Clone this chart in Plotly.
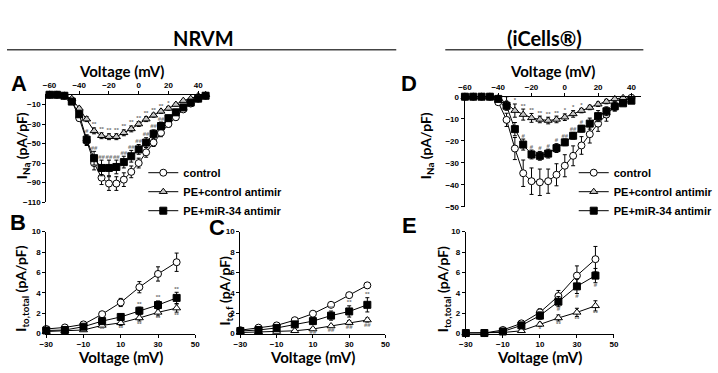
import plotly.graph_objects as go

W, H = 718, 373
def dx(p): return p / W
def dy(p): return 1 - p / H

# ---------------- data ----------------
volts_A = [-60, -55, -50, -45, -40, -35, -30, -25, -20, -15, -10, -5, 0, 5, 10, 15, 20, 25, 30, 35, 40, 45]
ctrl_A = [0, 0, -1, -6, -24, -47, -70, -85, -91, -91, -87, -79, -70, -59, -49, -39, -30, -23, -15, -9, -4, -1]
ctrl_A_err = [0, 0, 0.5, 1.5, 3, 5, 7, 7, 7, 7, 7, 6, 5, 5, 4, 4, 3, 3, 2, 2, 1, 1]
tri_A = [0, 0, -1, -4, -14, -25, -37, -42, -43, -43, -39, -35, -30, -25, -21, -17, -14, -10, -6, -4, -1, 0]
tri_A_err = [0, 0, 0.3, 0.5, 1.5, 2.5, 3, 3, 3, 3, 3, 3, 2.5, 2.5, 2, 2, 2, 1.5, 1, 1, 0.5, 0.5]
sq_A = [0, 0, -1, -7, -20, -46, -65, -75, -75, -74, -69, -63, -56, -49, -40, -32, -24, -18, -13, -8, -4, -1]
sq_A_err = [0, 0, 0.5, 1.5, 3, 5, 7, 8, 8, 7, 6, 6, 5, 5, 4, 4, 3, 3, 2, 2, 1, 1]
sig_tri_A = ["", "", "", "", "", "", "**", "**", "**", "**", "**", "**", "**", "**", "**", "**", "*", "", "", "", "", ""]
sig_sq_A = ["", "", "", "", "", "#", "##", "##", "##", "##", "##", "##", "##", "##", "##", "##", "", "", "", "", "", ""]

volts_D = [-60, -55, -50, -45, -40, -35, -30, -25, -20, -15, -10, -5, 0, 5, 10, 15, 20, 25, 30, 35, 40]
ctrl_D = [0, 0, 0, 0, -2.5, -10.5, -23.5, -34.7, -38.3, -38.8, -38.3, -35.4, -31.3, -26.8, -22.1, -17, -12.2, -8.1, -4.5, -2, -0.5]
ctrl_D_err = [0, 0, 0, 0, 1, 3, 5, 6, 6, 6, 5.5, 5, 5, 4.5, 4, 4, 3.5, 3, 2, 1, 1]
tri_D = [0, 0, 0, 0, -0.5, -3, -6.3, -8.1, -9.6, -10.3, -10.8, -10.3, -9.3, -7.8, -6.3, -4.9, -3.4, -2.2, -1, -0.5, 0.5]
tri_D_err = [0, 0, 0, 0, 0.5, 3, 3, 2.5, 2, 1.5, 1.5, 1.5, 1.5, 1.5, 1, 1, 1, 1, 1, 1, 0.5]
sq_D = [0, 0, 0, 0, -1, -4.1, -14.7, -21.7, -26.2, -26.8, -25.8, -23.3, -20.7, -17.7, -14.5, -12.2, -8.8, -6.6, -4.4, -3, -1.8]
sq_D_err = [0, 0, 0, 0, 0.5, 2, 3, 2.5, 2, 2, 2, 2, 1.5, 1.5, 1.5, 2.5, 2.5, 2, 2, 1, 0.5]
sig_tri_D = ["", "", "", "", "", "", "*", "**", "**", "**", "**", "**", "*", "*", "*", "", "", "", "", "", ""]
sig_sq_D = ["", "", "", "", "", "", "", "#", "#", "#", "#", "#", "##", "##", "#", "", "", "", "", "", ""]

volts_to = [-30, -20, -10, 0, 10, 20, 30, 40]
ctrl_B = [0.45, 0.6, 0.9, 1.9, 3.05, 4.55, 5.85, 7.0]
ctrl_B_err = [0.05, 0.05, 0.1, 0.15, 0.4, 0.55, 0.7, 0.9]
sq_B = [0.3, 0.35, 0.67, 1.22, 1.63, 2.24, 2.8, 3.5]
sq_B_err = [0.05, 0.05, 0.1, 0.2, 0.3, 0.35, 0.4, 0.55]
tri_B = [0.2, 0.25, 0.35, 0.8, 1.05, 1.53, 2.08, 2.5]
tri_B_err = [0.05, 0.05, 0.1, 0.15, 0.25, 0.3, 0.35, 0.4]
sig_sq_B = ["", "", "", "", "", "**", "**", "**"]
sig_tri_B = ["", "", "", "**", "**", "**", "**", "**"]

ctrl_C = [0.33, 0.58, 0.8, 1.31, 1.95, 2.82, 3.77, 4.73]
ctrl_C_err = [0.05, 0.05, 0.05, 0.1, 0.15, 0.15, 0.2, 0.25]
sq_C = [0.25, 0.35, 0.55, 0.9, 1.22, 1.76, 2.17, 2.82]
sq_C_err = [0.05, 0.05, 0.1, 0.15, 0.3, 0.45, 0.55, 0.7]
tri_C = [0.1, 0.15, 0.2, 0.27, 0.45, 0.74, 1.07, 1.33]
tri_C_err = [0.02, 0.02, 0.05, 0.05, 0.1, 0.15, 0.2, 0.2]
sig_sq_C = ["", "", "", "", "", "**", "**", "**"]
sig_tri_C = ["", "", "", "", "##", "##", "##", "##"]

ctrl_E = [0.05, 0.05, 0.35, 1.0, 2.08, 3.68, 5.69, 7.3]
ctrl_E_err = [0.02, 0.02, 0.1, 0.2, 0.35, 0.55, 0.95, 1.25]
sq_E = [0.05, 0.05, 0.2, 0.8, 1.76, 3.13, 4.63, 5.69]
sq_E_err = [0.02, 0.02, 0.1, 0.25, 0.35, 0.5, 0.7, 0.7]
tri_E = [0.05, 0.05, 0.1, 0.27, 0.9, 1.53, 2.08, 2.72]
tri_E_err = [0.02, 0.02, 0.05, 0.1, 0.2, 0.3, 0.4, 0.5]
sig_sq_E = ["", "", "", "", "", "#", "#", "#"]
sig_tri_E = ["", "", "", "", "*", "**", "**", "**"]

series_names = ["control", "PE+control antimir", "PE+miR-34 antimir"]

# ---------------- figure ----------------
fig = go.Figure()
ARIAL = "Liberation Sans, Arial, sans-serif"
TITLEF = "Lato, Open Sans, sans-serif"
SIGC = "#707070"

def add_panel(xa, ya, volts, data, tri_fill, legend=None, sigs=None):
    styles = [
        dict(symbol="circle", color="white"),
        dict(symbol="triangle-up", color=tri_fill),
        dict(symbol="square", color="black"),
    ]
    for i, (vals, errs) in enumerate(data):
        fig.add_trace(go.Scatter(
            x=volts, y=vals, mode="lines+markers", name=series_names[i],
            xaxis=xa, yaxis=ya,
            line=dict(color="black", width=1),
            marker=dict(size=7, symbol=styles[i]["symbol"], color=styles[i]["color"],
                        line=dict(color="black", width=1)),
            error_y=dict(type="data", array=errs, color="black", thickness=1, width=2),
            showlegend=legend is not None, legend=legend or "legend",
            cliponaxis=False,
        ))
    if sigs:
        for (labels, vals, errs, direction) in sigs:
            if direction == "up":
                ys = [v + e for v, e in zip(vals, errs)]
                pos = "top center"
            else:
                ys = [v - e for v, e in zip(vals, errs)]
                pos = "bottom center"
            fig.add_trace(go.Scatter(
                x=volts, y=ys, mode="text", text=labels, textposition=pos,
                textfont=dict(size=6, color=SIGC, family=ARIAL, weight="bold"),
                xaxis=xa, yaxis=ya, showlegend=False, hoverinfo="skip", cliponaxis=False,
            ))

add_panel("x", "y", volts_A,
          [(ctrl_A, ctrl_A_err), (tri_A, tri_A_err), (sq_A, sq_A_err)], "#c8c8c8", legend="legend",
          sigs=[(sig_tri_A, tri_A, tri_A_err, "up"), (sig_sq_A, sq_A, sq_A_err, "up")])
add_panel("x2", "y2", volts_to,
          [(ctrl_B, ctrl_B_err), (tri_B, tri_B_err), (sq_B, sq_B_err)], "white",
          sigs=[(sig_sq_B, sq_B, sq_B_err, "up"), (sig_tri_B, tri_B, tri_B_err, "down")])
add_panel("x3", "y3", volts_to,
          [(ctrl_C, ctrl_C_err), (tri_C, tri_C_err), (sq_C, sq_C_err)], "white",
          sigs=[(sig_sq_C, sq_C, sq_C_err, "up"), (sig_tri_C, tri_C, tri_C_err, "down")])
add_panel("x4", "y4", volts_D,
          [(ctrl_D, ctrl_D_err), (tri_D, tri_D_err), (sq_D, sq_D_err)], "#c8c8c8", legend="legend2",
          sigs=[(sig_tri_D, tri_D, tri_D_err, "up"), (sig_sq_D, sq_D, sq_D_err, "up")])
add_panel("x5", "y5", volts_to,
          [(ctrl_E, ctrl_E_err), (tri_E, tri_E_err), (sq_E, sq_E_err)], "white",
          sigs=[(sig_sq_E, sq_E, sq_E_err, "down"), (sig_tri_E, tri_E, tri_E_err, "down")])

ax_common = dict(showline=True, linecolor="black", linewidth=1, ticks="outside", ticklen=3,
                 tickcolor="black", showgrid=False, zeroline=False,
                 tickfont=dict(family=ARIAL, size=8, color="black", weight="bold"))

def X(dom, rng, anchor, **kw):
    d = dict(ax_common); d.update(domain=[dx(dom[0]), dx(dom[1])], range=rng, anchor=anchor); d.update(kw); return d
def Y(dom, rng, anchor, **kw):
    d = dict(ax_common); d.update(domain=[dy(dom[1]), dy(dom[0])], range=rng, anchor=anchor); d.update(kw); return d

tv_to_x = [-30, -10, 10, 30, 50]
tv_to_y = [0, 2, 4, 6, 8, 10]

fig.update_layout(
    width=W, height=H, margin=dict(l=0, r=0, t=0, b=0),
    paper_bgcolor="white", plot_bgcolor="rgba(0,0,0,0)",
    xaxis=X((40, 203), [-62.2, 45.3], "y", side="top", tickvals=[-60, -40, -20, 0, 20, 40]),
    yaxis=Y((93, 203), [-110, 0], "x", tickvals=[-10, -30, -50, -70, -90, -110]),
    xaxis2=X((40, 192), [-30, 50], "y2", tickvals=tv_to_x),
    yaxis2=Y((233.3, 337.7), [0, 10], "x2", tickvals=tv_to_y),
    xaxis3=X((238, 386), [-30, 50], "y3", tickvals=tv_to_x),
    yaxis3=Y((233.3, 337.7), [0, 10], "x3", tickvals=tv_to_y),
    xaxis4=X((466.7, 647), [-60.2, 46], "y4", side="top", tickvals=[-60, -40, -20, 0, 20, 40]),
    yaxis4=Y((95, 208), [-50, 0], "x4", tickvals=[0, -10, -20, -30, -40, -50]),
    xaxis5=X((468, 619), [-30, 50], "y5", tickvals=tv_to_x),
    yaxis5=Y((233.3, 337.7), [0, 10], "x5", tickvals=tv_to_y),
    legend=dict(x=dx(139), y=dy(158), xanchor="left", yanchor="top",
                font=dict(family=ARIAL, size=11, color="black", weight="bold"),
                bgcolor="rgba(0,0,0,0)", tracegroupgap=0, itemwidth=30),
    legend2=dict(x=dx(578), y=dy(158), xanchor="left", yanchor="top",
                 font=dict(family=ARIAL, size=11, color="black", weight="bold"),
                 bgcolor="rgba(0,0,0,0)", tracegroupgap=0, itemwidth=30),
    showlegend=True,
)

ann = []
def T(x, y, text, size, family=TITLEF, angle=0):
    ann.append(dict(x=dx(x), y=dy(y), xref="paper", yref="paper", text=text, showarrow=False,
                    textangle=angle, xanchor="center", yanchor="middle",
                    font=dict(family=family, size=size, color="black", weight="bold")))

T(200, 35, "NRVM", 20)
T(548, 35, "(iCells®)", 20)
T(117, 69, "Voltage (mV)", 15)
T(556, 69, "Voltage (mV)", 15)
T(116, 362, "Voltage (mV)", 15)
T(312, 362, "Voltage (mV)", 15)
T(543, 362, "Voltage (mV)", 15)
T(16, 145, "I<sub>Na</sub> (pA/pF)", 14, angle=-90)
T(428, 145, "I<sub>Na</sub> (pA/pF)", 14, angle=-90)
T(15, 292, "I<sub>to,total</sub> (pA/pF)", 14, angle=-90)
T(223, 294, "I<sub>to,f</sub> (pA/pF)", 14, angle=-90)
T(446, 292, "I<sub>to,total</sub> (pA/pF)", 14, angle=-90)
T(12, 81, "A", 22, family=ARIAL)
T(11, 224, "B", 22, family=ARIAL)
T(214, 229, "C", 22, family=ARIAL)
T(410, 81, "D", 22, family=ARIAL)
T(410, 227, "E", 22, family=ARIAL)
fig.update_layout(annotations=ann)

fig.add_shape(type="line", xref="paper", yref="paper", x0=dx(0), x1=dx(397), y0=dy(47), y1=dy(47),
              line=dict(color="#444", width=1.5))
fig.add_shape(type="line", xref="paper", yref="paper", x0=dx(447), x1=dx(649), y0=dy(47), y1=dy(47),
              line=dict(color="#444", width=1.5))

fig.write_html("out.html", config={"displayModeBar": False},
               post_script="document.body.style.margin='0';document.body.style.padding='0';")
